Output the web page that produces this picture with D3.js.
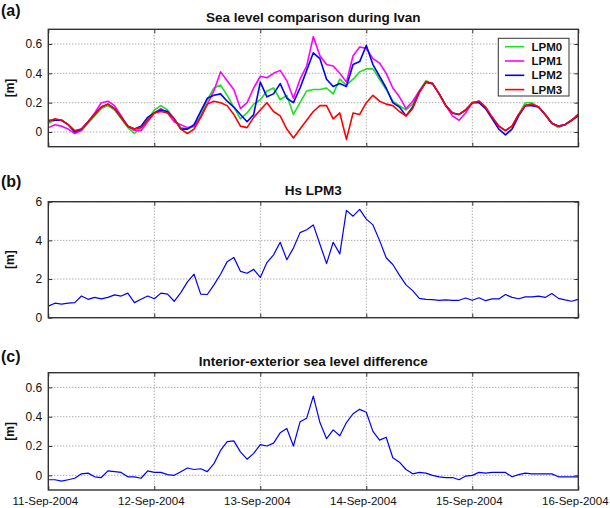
<!DOCTYPE html>
<html>
<head>
<meta charset="utf-8">
<script src="https://cdn.jsdelivr.net/npm/d3@7"></script>
<style>
  body { margin: 0; background: #fff; }
  svg { display: block; font-family: "Liberation Sans", Arial, sans-serif; }
</style>
</head>
<body>
<svg width="610" height="508"></svg>
<script>
// 1.5 hourly samples from 11-Sep-2004 00:00 to 16-Sep-2004 00:00
const startTime = Date.UTC(2004, 8, 11),
  stepHours = 1.5,
  nSamples = 81;

const dayTicks = ["11-Sep-2004", "12-Sep-2004", "13-Sep-2004", "14-Sep-2004", "15-Sep-2004", "16-Sep-2004"];
const seriesNames = ["LPM0", "LPM1", "LPM2", "LPM3"];
const seriesColors = ["#1fe01f", "#ff00ff", "#0000ff", "#ff0000"];

const lpm0 = [0.06, 0.08, 0.08, 0.05, 0.0, 0.01, 0.06, 0.11, 0.16, 0.18, 0.15, 0.09, 0.03, -0.01, 0.03, 0.08,
  0.15, 0.18, 0.15, 0.09, 0.03, 0.02, 0.04, 0.12, 0.22, 0.3, 0.32, 0.25, 0.17, 0.09, 0.13, 0.19,
  0.22, 0.28, 0.3, 0.22, 0.25, 0.12, 0.2, 0.28, 0.29, 0.29, 0.3, 0.26, 0.36, 0.32, 0.36, 0.41,
  0.43, 0.43, 0.36, 0.29, 0.21, 0.18, 0.15, 0.19, 0.28, 0.35, 0.33, 0.26, 0.18, 0.13, 0.12, 0.15,
  0.2, 0.21, 0.17, 0.1, 0.04, 0.01, 0.04, 0.12, 0.2, 0.2, 0.17, 0.12, 0.06, 0.03, 0.05, 0.08, 0.12];
const lpm1 = [0.03, 0.05, 0.04, 0.02, -0.01, 0.01, 0.07, 0.13, 0.2, 0.21, 0.18, 0.11, 0.04, 0.01, 0.01, 0.07,
  0.13, 0.16, 0.13, 0.07, 0.05, 0.03, 0.04, 0.1, 0.19, 0.28, 0.41, 0.35, 0.29, 0.16, 0.2, 0.3,
  0.38, 0.37, 0.4, 0.42, 0.35, 0.23, 0.36, 0.45, 0.65, 0.52, 0.46, 0.45, 0.4, 0.34, 0.52, 0.58,
  0.57, 0.5, 0.47, 0.4, 0.3, 0.24, 0.16, 0.21, 0.28, 0.34, 0.33, 0.26, 0.18, 0.11, 0.08, 0.13,
  0.2, 0.21, 0.17, 0.1, 0.04, 0.01, 0.04, 0.12, 0.18, 0.19, 0.17, 0.12, 0.06, 0.04, 0.05, 0.08, 0.12];
const lpm2 = [0.08, 0.08, 0.08, 0.05, 0.0, 0.02, 0.07, 0.12, 0.17, 0.19, 0.16, 0.1, 0.04, 0.02, 0.04, 0.1,
  0.13, 0.15, 0.14, 0.09, 0.02, 0.02, 0.05, 0.14, 0.23, 0.25, 0.26, 0.21, 0.17, 0.12, 0.07, 0.12,
  0.34, 0.24, 0.26, 0.33, 0.23, 0.2, 0.3, 0.42, 0.54, 0.5, 0.36, 0.31, 0.33, 0.31, 0.46, 0.48,
  0.59, 0.46, 0.38, 0.3, 0.2, 0.17, 0.11, 0.17, 0.27, 0.34, 0.33, 0.26, 0.18, 0.13, 0.12, 0.15,
  0.2, 0.2, 0.16, 0.09, 0.02, -0.02, 0.02, 0.11, 0.18, 0.18, 0.17, 0.12, 0.06, 0.04, 0.05, 0.08, 0.11];
const lpm3 = [0.07, 0.09, 0.08, 0.05, 0.01, 0.02, 0.07, 0.12, 0.17, 0.19, 0.16, 0.1, 0.04, 0.02, 0.03, 0.08,
  0.13, 0.14, 0.13, 0.09, 0.02, -0.01, 0.02, 0.1, 0.19, 0.21, 0.2, 0.18, 0.12, 0.04, 0.03, 0.1,
  0.15, 0.2, 0.14, 0.11, 0.02, -0.04, 0.02, 0.08, 0.14, 0.18, 0.18, 0.09, 0.13, -0.05, 0.13, 0.12,
  0.2, 0.25, 0.21, 0.19, 0.18, 0.14, 0.11, 0.16, 0.27, 0.34, 0.33, 0.26, 0.18, 0.13, 0.12, 0.15,
  0.2, 0.21, 0.17, 0.1, 0.04, 0.01, 0.04, 0.12, 0.18, 0.19, 0.17, 0.12, 0.06, 0.04, 0.05, 0.08, 0.12];

const hsLpm3 = [0.6, 0.75, 0.7, 0.75, 0.78, 1.12, 0.95, 1.05, 0.97, 1.05, 1.18, 1.12, 1.27, 0.78, 0.95, 1.12,
  0.98, 1.27, 1.22, 0.85, 1.3, 1.85, 2.25, 1.22, 1.2, 1.7, 2.25, 2.9, 3.12, 2.4, 2.3, 2.5,
  2.08, 2.85, 3.25, 3.9, 3.0, 3.6, 4.4, 4.55, 4.8, 3.8, 2.8, 3.9, 3.3, 5.55, 5.25, 5.6,
  5.1, 4.8, 4.0, 3.1, 2.75, 2.2, 1.7, 1.4, 1.0, 0.95, 0.93, 0.9, 0.92, 0.9, 0.9, 1.02,
  0.9, 1.03, 0.88, 0.97, 0.97, 1.2, 1.05, 0.98, 1.08, 1.08, 1.12, 1.05, 1.25, 1.0, 0.92, 0.85, 0.95];

const levelDiff = [-0.03, -0.03, -0.04, -0.03, -0.02, 0.01, 0.015, -0.01, -0.015, 0.03, 0.025, 0.02, -0.01, -0.01, -0.02, 0.03,
  0.02, 0.02, 0.005, 0.0, 0.025, 0.05, 0.04, 0.045, 0.025, 0.08, 0.17, 0.23, 0.235, 0.16, 0.11, 0.15,
  0.21, 0.2, 0.22, 0.29, 0.32, 0.2, 0.365, 0.39, 0.54, 0.36, 0.25, 0.31, 0.27, 0.36, 0.42, 0.45,
  0.43, 0.3, 0.24, 0.26, 0.12, 0.09, 0.04, 0.01, 0.02, 0.015, 0.0, -0.01, -0.015, -0.015, -0.03, -0.005,
  0.0, 0.02, 0.015, 0.02, 0.02, 0.02, -0.01, 0.005, 0.015, 0.01, 0.01, 0.01, 0.01, -0.01, -0.01, -0.01, -0.01];

const times = d3.range(nSamples).map(i => new Date(startTime + i * stepHours * 3600e3));
const dayDates = dayTicks.map((d, i) => new Date(startTime + i * 864e5));

const svg = d3.select("svg"),
  left = 48.3,
  right = 578.3;

const xScale = d3
  .scaleUtc()
  .domain([dayDates[0], dayDates[dayDates.length - 1]])
  .range([left, right]);

function drawPanel(p) {
  const y = d3.scaleLinear().domain(p.domain).range([p.bottom, p.top]);
  const g = svg.append("g");

  // grid
  g.selectAll(".vgrid")
    .data(dayDates.slice(1, -1))
    .enter()
    .append("line")
    .attr("x1", d => xScale(d))
    .attr("x2", d => xScale(d))
    .attr("y1", p.top)
    .attr("y2", p.bottom)
    .attr("stroke", "#8a8a8a")
    .attr("stroke-dasharray", "1,2");
  g.selectAll(".hgrid")
    .data(p.ticks)
    .enter()
    .append("line")
    .attr("x1", left)
    .attr("x2", right)
    .attr("y1", d => y(d))
    .attr("y2", d => y(d))
    .attr("stroke", "#8a8a8a")
    .attr("stroke-dasharray", "1,2");

  // lines
  const line = d3
    .line()
    .x((d, i) => xScale(times[i]))
    .y(d => y(d));
  p.series.forEach((s, k) => {
    g.append("path")
      .datum(s)
      .attr("fill", "none")
      .attr("stroke", p.colors[k])
      .attr("stroke-width", p.lineWidth)
      .attr("stroke-linejoin", "round")
      .attr("d", line);
  });

  // inward ticks on all four sides
  const tl = 4;
  [
    [d3.axisLeft(y).tickValues(p.ticks).tickSize(-tl).tickFormat(""), left, 0],
    [d3.axisRight(y).tickValues(p.ticks).tickSize(-tl).tickFormat(""), right, 0],
    [d3.axisBottom(xScale).tickValues(dayDates).tickSize(-tl).tickFormat(""), 0, p.bottom],
    [d3.axisTop(xScale).tickValues(dayDates).tickSize(-tl).tickFormat(""), 0, p.top]
  ].forEach(([ax, tx, ty]) => {
    const a = g.append("g").attr("transform", `translate(${tx},${ty})`).call(ax);
    a.select(".domain").remove();
    a.selectAll("line").attr("stroke", "#333");
  });

  // y tick labels
  g.selectAll(".ylab")
    .data(p.ticks)
    .enter()
    .append("text")
    .attr("x", left - 6)
    .attr("y", d => y(d))
    .attr("dy", "0.35em")
    .attr("text-anchor", "end")
    .attr("font-size", "12px")
    .attr("fill", "#111")
    .text(p.tickFormat);

  // frame
  g.append("rect")
    .attr("x", left)
    .attr("y", p.top)
    .attr("width", right - left)
    .attr("height", p.bottom - p.top)
    .attr("fill", "none")
    .attr("stroke", "#333")
    .attr("stroke-width", 1.4);

  g.append("text")
    .attr("x", (left + right) / 2)
    .attr("y", p.top - 7)
    .attr("text-anchor", "middle")
    .attr("font-size", "13.5px")
    .attr("font-weight", "bold")
    .attr("fill", "#111")
    .text(p.title);

  g.append("text")
    .attr("x", 1)
    .attr("y", p.tag)
    .attr("font-size", "16px")
    .attr("font-weight", "bold")
    .attr("fill", "#111")
    .text(p.label);

  g.append("text")
    .attr("transform", `translate(14,${(p.top + p.bottom) / 2}) rotate(-90)`)
    .attr("text-anchor", "middle")
    .attr("font-size", "12px")
    .attr("font-weight", "bold")
    .attr("fill", "#111")
    .text("[m]");

  return g;
}

const ga = drawPanel({
  top: 29.3, bottom: 146.7, domain: [-0.1, 0.7], ticks: [0, 0.2, 0.4, 0.6],
  tickFormat: d => (d === 0 ? "0" : d3.format(".1f")(d)),
  series: [lpm0, lpm1, lpm2, lpm3], colors: seriesColors, lineWidth: 1.6,
  title: "Sea level comparison during Ivan", label: "(a)", tag: 15.5
});

drawPanel({
  top: 201.7, bottom: 317.7, domain: [0, 6], ticks: [0, 2, 4, 6],
  tickFormat: d => d,
  series: [hsLpm3], colors: ["#0000ff"], lineWidth: 1.2,
  title: "Hs LPM3", label: "(b)", tag: 187
});

const gc = drawPanel({
  top: 372.7, bottom: 490, domain: [-0.1, 0.7], ticks: [0, 0.2, 0.4, 0.6],
  tickFormat: d => (d === 0 ? "0" : d3.format(".1f")(d)),
  series: [levelDiff], colors: ["#0000ff"], lineWidth: 1.2,
  title: "Interior-exterior sea level difference", label: "(c)", tag: 361.5
});

// date labels under the bottom panel
gc.selectAll(".xlab")
  .data(dayDates)
  .enter()
  .append("text")
  .attr("x", d => xScale(d) - 3)
  .attr("y", 505)
  .attr("text-anchor", "middle")
  .attr("font-size", "11.5px")
  .attr("fill", "#111")
  .text((d, i) => dayTicks[i]);

// legend
const legend = ga.append("g");
legend
  .append("rect")
  .attr("x", 498.3)
  .attr("y", 38.3)
  .attr("width", 70.7)
  .attr("height", 57.7)
  .attr("fill", "#fff")
  .attr("stroke", "#333")
  .attr("stroke-width", 1);
seriesNames.forEach((name, i) => {
  const ly = 46.7 + i * 14.3;
  legend
    .append("line")
    .attr("x1", 505)
    .attr("x2", 524.3)
    .attr("y1", ly)
    .attr("y2", ly)
    .attr("stroke", seriesColors[i])
    .attr("stroke-width", 1.6);
  legend
    .append("text")
    .attr("x", 531.5)
    .attr("y", ly)
    .attr("dy", "0.36em")
    .attr("font-size", "11.5px")
    .attr("font-weight", "bold")
    .attr("fill", "#111")
    .text(name);
});
</script>
</body>
</html>
